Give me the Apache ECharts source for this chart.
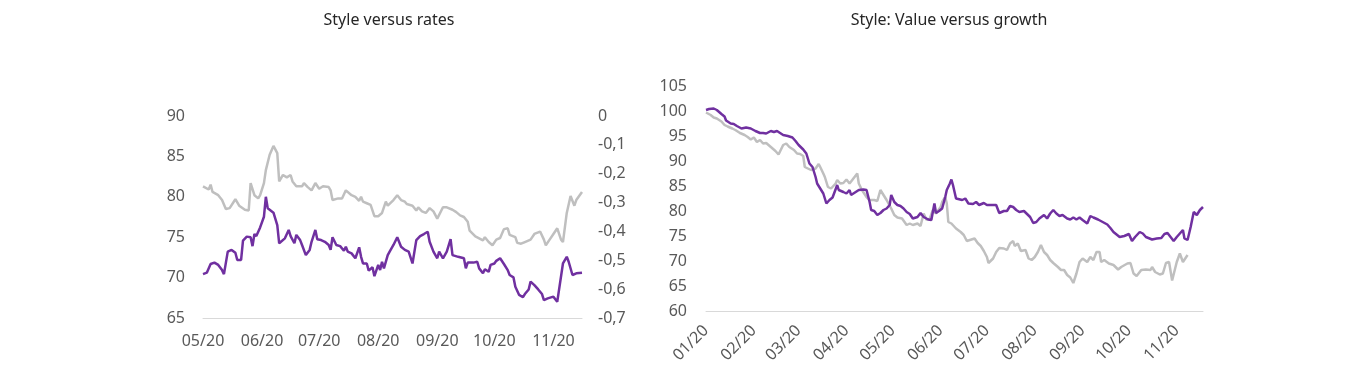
<!DOCTYPE html>
<html><head><meta charset="utf-8">
<script src="https://cdn.jsdelivr.net/npm/echarts@6/dist/echarts.min.js"></script>
<style>html,body{margin:0;padding:0;background:#fff}#c{width:1366px;height:372px}</style>
</head><body><div id="c"></div>
<script>
// x = day of year 2020 (0 = 1 Jan)
const titles = ['Style versus rates', 'Style: Value versus growth'];

// Left chart: style index (grey, left axis)
const leftStyle = [[121,81.3],[124,80.9],[125,81.5],[126,80.6],[129,80.2],[131,79.6],[133,78.5],[135,78.6],[138,79.7],[140,78.9],[143,78.4],[145,78.3],[146,81.7],[148,80.2],[150,79.8],[151,80.2],[153,81.7],[154,83.3],[155,83.4],[156,85.2],[158,86.3],[160,85.4],[161,81.9],[163,82.7],[165,82.4],[167,82.7],[168,81.9],[170,81.3],[173,81.3],[174,81.7],[176,81.2],[178,80.8],[180,81.7],[182,81.0],[184,81.3],[187,81.2],[188,80.8],[189,79.6],[190,79.6],[192,79.8],[194,79.8],[196,80.8],[197,80.7],[199,80.2],[201,80.0],[203,79.5],[204,80.0],[205,79.4],[207,79.2],[209,79.0],[211,77.6],[213,77.6],[215,78.0],[217,79.4],[218,78.9],[221,79.6],[223,80.2],[225,79.6],[227,79.4],[228,79.1],[231,78.9],[233,78.3],[234,78.7],[236,78.2],[238,78.0],[240,78.6],[242,78.2],[244,77.3],[247,78.7],[249,78.7],[252,78.4],[254,78.1],[256,77.7],[258,77.5],[260,76.9],[261,75.8],[264,75.1],[265,74.9],[268,74.6],[269,75.0],[271,74.4],[273,74.0],[275,74.7],[277,74.9],[279,76.0],[281,76.1],[282,75.3],[285,75.0],[286,74.3],[288,74.2],[290,74.4],[293,74.7],[295,75.4],[298,75.7],[300,74.7],[301,74.0],[303,74.7],[305,75.4],[307,76.1],[309,74.7],[310,74.4],[312,78.0],[314,80.1],[316,78.9],[317,79.6],[320,80.6]];

// Left chart: rates (purple, right axis)
const leftRates = [[121,-0.548],[123,-0.543],[125,-0.513],[127,-0.508],[129,-0.516],[131,-0.534],[132,-0.548],[134,-0.470],[136,-0.464],[138,-0.474],[139,-0.499],[140,-0.493],[141,-0.499],[142,-0.432],[144,-0.418],[146,-0.420],[147,-0.451],[148,-0.409],[149,-0.416],[151,-0.386],[153,-0.349],[154,-0.280],[155,-0.320],[156,-0.316],[158,-0.335],[160,-0.378],[161,-0.441],[162,-0.447],[164,-0.424],[166,-0.395],[167,-0.416],[169,-0.441],[170,-0.412],[172,-0.430],[173,-0.447],[175,-0.482],[177,-0.464],[178,-0.436],[180,-0.395],[181,-0.427],[183,-0.430],[185,-0.436],[187,-0.447],[188,-0.464],[189,-0.420],[191,-0.447],[193,-0.451],[195,-0.467],[196,-0.453],[197,-0.470],[199,-0.476],[201,-0.493],[203,-0.455],[204,-0.488],[205,-0.511],[207,-0.511],[208,-0.536],[210,-0.524],[211,-0.555],[213,-0.516],[214,-0.534],[215,-0.505],[216,-0.528],[218,-0.482],[219,-0.470],[221,-0.447],[223,-0.420],[225,-0.453],[227,-0.464],[229,-0.470],[231,-0.511],[233,-0.430],[235,-0.416],[237,-0.409],[239,-0.401],[240,-0.436],[242,-0.470],[244,-0.493],[245,-0.470],[247,-0.493],[249,-0.470],[251,-0.427],[252,-0.482],[255,-0.488],[258,-0.493],[259,-0.528],[260,-0.508],[263,-0.508],[265,-0.505],[266,-0.528],[268,-0.545],[269,-0.531],[271,-0.540],[272,-0.516],[274,-0.511],[275,-0.502],[277,-0.493],[279,-0.513],[281,-0.534],[282,-0.551],[284,-0.559],[285,-0.592],[287,-0.620],[289,-0.628],[290,-0.617],[292,-0.601],[293,-0.574],[295,-0.586],[297,-0.601],[299,-0.617],[300,-0.638],[302,-0.632],[303,-0.638],[305,-0.626],[306,-0.620],[307,-0.644],[308,-0.644],[310,-0.511],[312,-0.488],[313,-0.505],[315,-0.551],[317,-0.545],[320,-0.543]];

// Right chart: value vs growth (purple)
const rightStyle = [[0,100.2],[2,100.4],[5,100.5],[7,100.2],[10,99.4],[12,98.9],[13,98.1],[16,97.5],[18,97.4],[20,97.0],[23,96.5],[26,96.7],[29,96.5],[32,96.0],[35,95.6],[37,95.6],[39,95.5],[42,96.0],[44,95.8],[46,96.0],[48,95.6],[50,95.2],[53,95.0],[56,94.7],[58,94.0],[60,93.2],[63,92.3],[65,91.5],[67,89.5],[69,88.8],[71,86.8],[72,85.5],[74,84.5],[76,83.5],[77,83.8],[78,81.5],[80,82.2],[82,82.7],[85,85.2],[86,84.2],[89,83.8],[91,83.5],[93,84.2],[94,83.2],[97,83.8],[99,84.2],[102,84.3],[104,84.2],[106,81.8],[107,80.2],[109,80.0],[111,79.2],[113,79.6],[115,80.2],[117,80.5],[119,81.2],[120,83.2],[122,81.8],[124,81.2],[126,81.0],[128,80.5],[130,79.8],[132,79.4],[134,78.5],[137,78.8],[139,79.6],[141,78.8],[144,78.3],[146,78.2],[148,81.5],[149,79.6],[151,80.0],[153,80.5],[155,82.8],[156,84.2],[158,85.5],[159,86.3],[160,85.2],[162,82.5],[163,82.8],[166,82.2],[168,82.5],[170,81.5],[173,81.4],[175,81.8],[177,81.2],[180,81.6],[182,81.2],[185,81.2],[188,81.2],[190,79.6],[193,80.0],[195,80.0],[197,81.0],[199,80.8],[201,80.2],[203,79.8],[206,80.0],[208,79.4],[210,78.8],[212,77.6],[214,77.8],[216,78.5],[219,79.2],[221,78.5],[223,79.5],[225,80.2],[227,79.5],[229,79.0],[231,79.2],[234,78.5],[236,78.3],[238,78.7],[240,78.3],[242,78.7],[244,78.2],[247,77.5],[249,79.0],[251,78.7],[254,78.3],[257,77.8],[260,77.3],[262,76.6],[264,75.8],[268,74.8],[271,75.0],[274,75.4],[276,74.0],[278,74.8],[281,75.8],[283,75.5],[285,74.8],[289,74.3],[292,74.5],[295,74.6],[297,75.4],[299,75.6],[301,74.8],[303,74.0],[305,74.8],[307,75.5],[309,76.2],[310,74.5],[312,74.2],[314,76.8],[316,79.8],[318,79.2],[320,80.2],[322,80.8]];

// Right chart: comparison index (grey)
const rightOther = [[0,99.7],[3,99.2],[5,98.7],[7,98.5],[10,97.9],[12,97.2],[14,96.9],[17,96.5],[19,96.2],[22,95.6],[23,95.8],[25,95.2],[27,94.8],[29,94.3],[31,94.7],[33,93.8],[35,94.2],[37,93.5],[39,93.6],[42,92.8],[45,92.0],[47,91.3],[50,93.2],[52,93.5],[54,92.8],[57,92.2],[59,91.5],[61,91.4],[63,91.0],[64,88.8],[66,88.5],[68,88.2],[71,88.5],[73,89.4],[74,88.8],[76,87.5],[77,86.8],[79,84.8],[81,84.5],[84,85.5],[85,86.2],[87,85.5],[89,85.6],[91,86.3],[93,85.5],[95,86.3],[98,87.5],[99,85.5],[101,84.2],[104,82.8],[106,82.2],[109,82.2],[111,82.0],[113,84.2],[115,83.2],[117,82.2],[120,80.5],[122,79.2],[124,78.7],[127,78.5],[130,77.2],[132,77.5],[134,77.2],[137,77.5],[139,77.0],[141,79.5],[143,78.2],[145,78.5],[147,80.2],[149,79.5],[152,80.8],[153,81.8],[155,82.8],[156,81.5],[157,77.8],[159,77.5],[162,76.5],[165,75.8],[167,75.2],[169,74.0],[171,74.2],[174,74.5],[176,73.6],[178,73.0],[180,72.0],[182,70.8],[183,69.6],[186,70.5],[188,71.8],[190,72.6],[193,72.5],[195,72.2],[197,73.5],[199,74.0],[200,73.0],[202,73.5],[204,72.0],[207,72.2],[209,70.5],[211,70.2],[213,70.8],[215,71.8],[217,73.2],[219,71.8],[221,71.2],[223,70.2],[225,69.6],[228,68.8],[230,68.2],[232,68.2],[234,67.2],[236,66.7],[238,65.6],[240,67.5],[242,69.8],[244,70.5],[247,69.8],[249,70.8],[251,70.2],[253,71.8],[255,71.8],[256,69.8],[258,70.2],[261,69.5],[264,69.2],[267,68.3],[269,68.8],[273,69.5],[275,69.6],[277,67.5],[279,67.0],[282,68.2],[285,68.3],[288,68.2],[289,68.8],[291,67.8],[294,67.3],[296,67.5],[298,69.6],[300,69.8],[302,66.1],[303,65.8],[305,69.8],[307,71.5],[309,69.8],[312,71.2]];

// axis ranges (day of year)
const leftRange = [121, 320];
const rightRange = [0, 322];

function toTime(d){ return new Date(2020, 0, 1 + d).getTime(); }
function conv(arr){ return arr.map(p => [toTime(p[0]), p[1]]); }
function fmtMonth(v){ const d = new Date(v); const m = d.getMonth() + 1; return (m < 10 ? '0' : '') + m + '/' + String(d.getFullYear()).slice(2); }
function fmtRate(v){ if (Math.abs(v) < 1e-9) return '0'; return v.toFixed(1).replace('.', ','); }

const DAY = 86400000;
const labelColor = '#595959';
const axisFont = 'Noto Sans';

function timeAxis(grid, range, extraLabel){
  return {
    type: 'time', gridIndex: grid, min: toTime(range[0]), max: toTime(range[1]),
    minInterval: 28 * DAY, maxInterval: 31 * DAY, splitNumber: 12,
    axisLine: { onZero: false, lineStyle: { color: '#d9d9d9', width: 1 } },
    axisTick: { show: false }, splitLine: { show: false },
    axisLabel: Object.assign({ formatter: fmtMonth, color: labelColor, fontSize: 16, fontFamily: axisFont,
      showMinLabel: true, showMaxLabel: false, hideOverlap: false }, extraLabel)
  };
}
function valAxis(grid, min, max, interval, pos, margin, formatter){
  return {
    type: 'value', gridIndex: grid, position: pos, min: min, max: max, interval: interval,
    axisLine: { show: false, onZero: false }, axisTick: { show: false }, splitLine: { show: false },
    axisLabel: { color: labelColor, fontSize: 16, fontFamily: axisFont, margin: margin, formatter: formatter }
  };
}

const chart = echarts.init(document.getElementById('c'), null, { renderer: 'canvas' });
chart.setOption({
  animation: false,
  backgroundColor: '#fff',
  title: [
    { text: titles[0], left: 384, top: 7, textAlign: 'center', textStyle: { fontSize: 16, fontWeight: 'normal', color: '#262626', fontFamily: 'Noto Sans' } },
    { text: titles[1], left: 944, top: 7, textAlign: 'center', textStyle: { fontSize: 16, fontWeight: 'normal', color: '#262626', fontFamily: 'Noto Sans' } }
  ],
  grid: [
    { left: 203, right: 784, top: 116, bottom: 54 },
    { left: 706, right: 163, top: 86, bottom: 61 }
  ],
  xAxis: [
    timeAxis(0, leftRange, { margin: 15 }),
    timeAxis(1, rightRange, { margin: 17, rotate: 45 })
  ],
  yAxis: [
    valAxis(0, 65, 90, 5, 'left', 18),
    valAxis(0, -0.7, 0, 0.1, 'right', 16, fmtRate),
    valAxis(1, 60, 105, 5, 'left', 19)
  ],
  series: [
    { type: 'line', xAxisIndex: 0, yAxisIndex: 0, data: conv(leftStyle), showSymbol: false, lineStyle: { color: '#bfbfbf', width: 2.5 }, itemStyle: { color: '#bfbfbf' } },
    { type: 'line', xAxisIndex: 0, yAxisIndex: 1, data: conv(leftRates), showSymbol: false, lineStyle: { color: '#7030a0', width: 2.5 }, itemStyle: { color: '#7030a0' } },
    { type: 'line', xAxisIndex: 1, yAxisIndex: 2, data: conv(rightOther), showSymbol: false, lineStyle: { color: '#bfbfbf', width: 2.5 }, itemStyle: { color: '#bfbfbf' } },
    { type: 'line', xAxisIndex: 1, yAxisIndex: 2, data: conv(rightStyle), showSymbol: false, lineStyle: { color: '#7030a0', width: 2.5 }, itemStyle: { color: '#7030a0' } }
  ]
});
</script></body></html>
